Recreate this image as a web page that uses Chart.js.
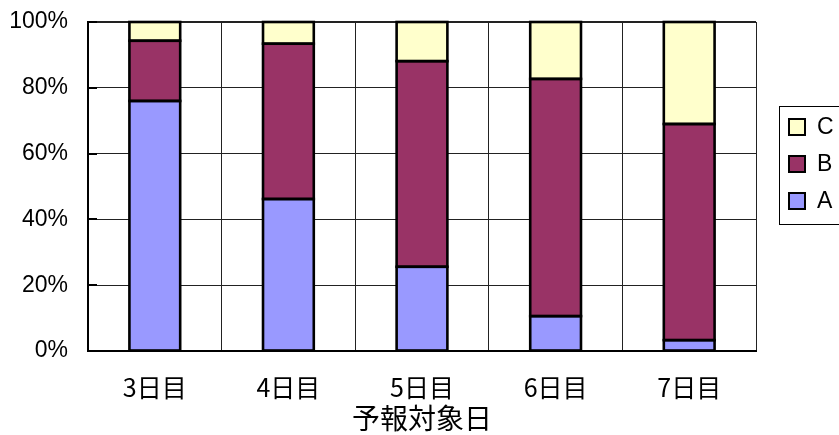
<!DOCTYPE html>
<html>
<head>
<meta charset="utf-8">
<script src="https://cdn.jsdelivr.net/npm/chart.js@4"></script>
<style>
    html, body { margin: 0; padding: 0; background: #fff; }
</style>
</head>
<body>
<canvas id="myChart" width="839" height="435"></canvas>
<script>
const categories = ['3日目', '4日目', '5日目', '6日目', '7日目'];
const seriesA = [76.0, 46.2, 25.6, 10.6, 3.3];
const seriesB = [18.3, 47.2, 62.5, 72.1, 65.7];
const seriesC = [5.7, 6.6, 11.9, 17.3, 31.0];
const yTicks = [0, 20, 40, 60, 80, 100];
const xTitle = '予報対象日';

const latin = "'Liberation Sans', Arial, sans-serif";
const cjk = "'Noto Sans CJK JP', 'Noto Sans', sans-serif";

// black outline around every bar segment, centred on its edges
const barOutline = {
    id: 'barOutline',
    afterDatasetsDraw(chart) {
        const ctx = chart.ctx;
        ctx.save();
        ctx.strokeStyle = '#000';
        ctx.lineWidth = 2.6;
        chart.data.datasets.forEach((ds, i) => {
            chart.getDatasetMeta(i).data.forEach(bar => {
                const w = bar.width;
                ctx.strokeRect(bar.x - w / 2, bar.y, w, bar.base - bar.y);
            });
        });
        ctx.restore();
    }
};

// legend box on the right, drawn by hand (C, B, A from top)
const legendBox = {
    id: 'legendBox',
    afterDraw(chart) {
        const ctx = chart.ctx;
        ctx.save();
        ctx.strokeStyle = '#000';
        ctx.lineWidth = 1;
        ctx.strokeRect(779.5, 106.5, 80, 118);
        const items = chart.data.datasets.slice().reverse();
        ctx.font = '23px ' + latin;
        ctx.textBaseline = 'middle';
        items.forEach((ds, i) => {
            const cy = 127 + i * 37;
            ctx.fillStyle = ds.backgroundColor;
            ctx.fillRect(789, cy - 8, 16, 16);
            ctx.lineWidth = 2;
            ctx.strokeStyle = '#000';
            ctx.strokeRect(789, cy - 8, 16, 16);
            ctx.fillStyle = '#000';
            ctx.fillText(ds.label, 817, cy + 1);
        });
        // small inner tick marks on the value axis
        const y = chart.scales.y;
        ctx.lineWidth = 2;
        yTicks.forEach(t => {
            const py = Math.round(y.getPixelForValue(t));
            ctx.beginPath();
            ctx.moveTo(chart.chartArea.left, py);
            ctx.lineTo(chart.chartArea.left + 9, py);
            ctx.stroke();
        });
        ctx.restore();
    }
};

const ctx = document.getElementById('myChart').getContext('2d');
const myChart = new Chart(ctx, {
    type: 'bar',
    data: {
        labels: categories,
        datasets: [
            { label: 'A', data: seriesA, backgroundColor: '#9999FF' },
            { label: 'B', data: seriesB, backgroundColor: '#993366' },
            { label: 'C', data: seriesC, backgroundColor: '#FFFFCC' }
        ].map(d => Object.assign(d, {
            borderWidth: 0,
            inflateAmount: 0,
            categoryPercentage: 1,
            barPercentage: 0.38
        }))
    },
    options: {
        responsive: false,
        animation: false,
        devicePixelRatio: 1,
        layout: { padding: { left: 0, right: 83, top: 22, bottom: 0 } },
        plugins: {
            legend: { display: false },
            tooltip: { enabled: false }
        },
        scales: {
            x: {
                stacked: true,
                afterFit: s => {
                    s.height = 84;
                    s.paddingLeft = 0;
                    s.paddingRight = 0;
                },
                grid: {
                    offset: true,
                    color: '#222',
                    lineWidth: c => (c.index === categories.length ? 2 : 1),
                    drawTicks: false
                },
                border: { color: '#000', width: 2 },
                ticks: {
                    color: '#000',
                    font: { family: cjk, size: 25 },
                    padding: 21
                },
                title: {
                    display: true,
                    text: xTitle,
                    color: '#000',
                    font: { family: cjk, size: 28 },
                    padding: { top: 0, bottom: 0 }
                }
            },
            y: {
                stacked: true,
                min: 0,
                max: 100,
                afterFit: s => {
                    s.width = 88;
                    s.paddingTop = 0;
                    s.paddingBottom = 0;
                },
                grid: {
                    color: '#222',
                    lineWidth: c => (c.tick && c.tick.value === 100 ? 2 : 1),
                    drawTicks: false
                },
                border: { color: '#000', width: 2 },
                afterBuildTicks: s => { s.ticks = yTicks.map(v => ({ value: v })); },
                ticks: {
                    color: '#000',
                    font: { family: latin, size: 23 },
                    padding: 20,
                    callback: v => v + '%'
                }
            }
        }
    },
    plugins: [barOutline, legendBox]
});
</script>
</body>
</html>
